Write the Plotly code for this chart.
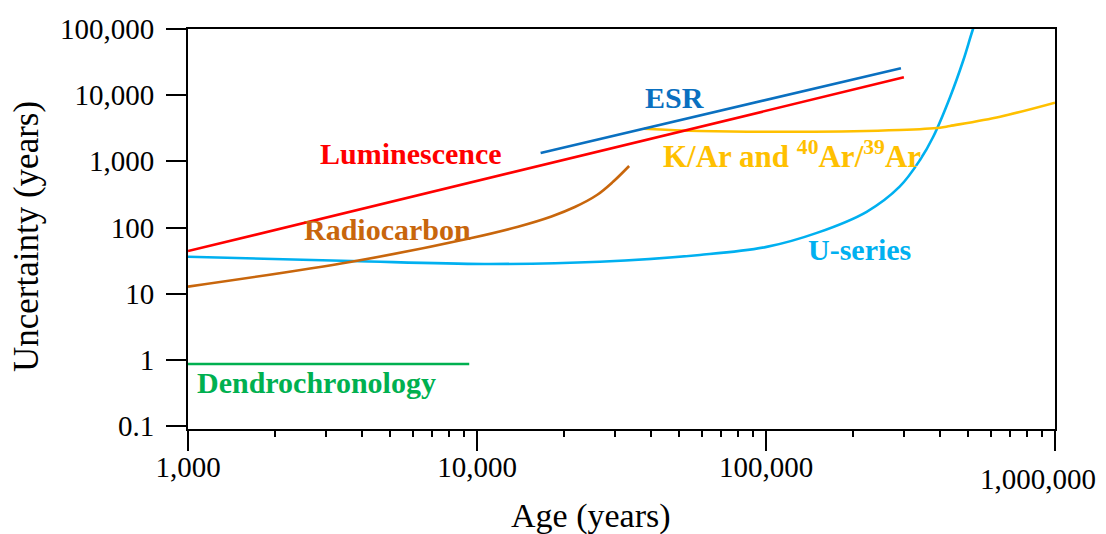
import plotly.graph_objects as go

# ---- data ----
dendro_x = [1000, 9400]
dendro_y = [0.865, 0.865]

lum_x = [1000, 300000]
lum_y = [44, 18600]

esr_x = [16600, 293000]
esr_y = [1340, 25500]

radio_x = [1000, 3680, 9570, 13870, 18100, 21800, 26000, 29500, 33600]
radio_y = [12.8, 30.4, 69.5, 103, 147, 204, 310, 487, 851]

useries_x = [1000, 3680, 10600, 26600, 59000, 100500, 150000, 223000, 290000,
             341000, 379000, 434000, 482000, 519000, 560000]
useries_y = [36.2, 31.2, 28.1, 30.4, 38.5, 51, 83, 173, 414,
             1047, 2355, 9480, 34000, 96600, 250000]

kar_x = [37800, 59000, 131000, 290000, 400000, 433000, 646000, 1000000]
kar_y = [3110, 2880, 2800, 2980, 3220, 3420, 4730, 7700]

x_tickvals = [1000, 10000, 100000, 1000000]
x_ticktext = ["1,000", "10,000", "100,000", ""]
x_last_label = "1,000,000"
x_minorvals = [m * 10 ** k for k in (3, 4, 5) for m in range(2, 10)]
y_tickvals = [0.1, 1, 10, 100, 1000, 10000, 100000]
y_ticktext = ["0.1", "1", "10", "100", "1,000", "10,000", "100,000"]

SERIF = "Liberation Serif"
RED = "#FF0000"
ESR_C = "#0A70C0"
GOLD = "#FFC000"
BROWN = "#C8660C"
LBLUE = "#00B0F0"
GREEN = "#00B050"

fig = go.Figure()

def add_line(x, y, color, smooth=False):
    fig.add_trace(go.Scatter(
        x=x, y=y, mode="lines",
        line=dict(color=color, width=2.6, shape="spline" if smooth else "linear",
                  smoothing=1.0),
        hoverinfo="skip", showlegend=False))

add_line(dendro_x, dendro_y, GREEN)
add_line(useries_x, useries_y, LBLUE, smooth=True)
add_line(radio_x, radio_y, BROWN, smooth=True)
add_line(kar_x, kar_y, GOLD, smooth=True)
add_line(lum_x, lum_y, RED)
add_line(esr_x, esr_y, ESR_C)

# series labels: (text, log10 x, log10 y, color, size)
labels = [
    ("ESR", 4.685, 3.972, ESR_C, 30),
    ("Luminescence", 3.773, 3.126, RED, 30),
    ("Radiocarbon", 3.691, 1.977, BROWN, 30),
    ("K/Ar and <sup>40</sup>Ar/<sup>39</sup>Ar", 5.091, 3.111, GOLD, 31),
    ("U-series", 5.322, 1.675, LBLUE, 30),
    ("Dendrochronology", 3.444, -0.335, GREEN, 30),
]
for text, lx, ly, col, sz in labels:
    fig.add_annotation(x=lx, y=ly, xref="x", yref="y", text="<b>%s</b>" % text,
                       showarrow=False, xanchor="center", yanchor="middle",
                       font=dict(family=SERIF, size=sz, color=col))

# last x tick label, shifted left/down as in the original
fig.add_annotation(x=6, y=(429 - 479) / 400, xref="x", yref="paper", text=x_last_label,
                   showarrow=False, xanchor="center", yanchor="middle", xshift=-17,
                   font=dict(family=SERIF, size=29, color="black"))

# axis titles
fig.add_annotation(x=(591 - 188) / 867, y=(429 - 516) / 400, xref="paper", yref="paper",
                   text="Age (years)", showarrow=False, xanchor="center", yanchor="middle",
                   font=dict(family=SERIF, size=34, color="black"))
fig.add_annotation(x=(26 - 188) / 867, y=(429 - 237) / 400, xref="paper", yref="paper",
                   text="Uncertainty (years)", showarrow=False, textangle=-90,
                   xanchor="center", yanchor="middle",
                   font=dict(family=SERIF, size=35, color="black"))

fig.update_xaxes(
    type="log", range=[3, 6], tickmode="array", tickvals=x_tickvals, ticktext=x_ticktext,
    ticks="outside", ticklen=20, tickwidth=2, tickcolor="black",
    minor=dict(tickmode="array", tickvals=x_minorvals, ticks="outside", ticklen=6,
               tickwidth=1.5, tickcolor="black", showgrid=False),
    showline=True, linecolor="black", linewidth=2, mirror=True, automargin=False,
    showgrid=False, zeroline=False, ticklabelstandoff=-9,
    tickfont=dict(family=SERIF, size=29, color="black"),
)
fig.update_yaxes(
    type="log", range=[-1.045, 5], tickmode="array", tickvals=y_tickvals, ticktext=y_ticktext,
    ticks="outside", ticklen=20, tickwidth=2, tickcolor="black",
    showline=True, linecolor="black", linewidth=2, mirror=True, automargin=False,
    showgrid=False, zeroline=False, ticklabelstandoff=6, ticklabeloverflow="allow",
    tickfont=dict(family=SERIF, size=29, color="black"),
)
fig.update_layout(
    width=1106, height=534,
    margin=dict(l=188, r=51, t=29, b=105, autoexpand=False),
    plot_bgcolor="white", paper_bgcolor="white",
    showlegend=False,
)
fig.write_html("out.html", config={"displayModeBar": False},
               post_script="document.body.style.margin='0';document.body.style.overflow='hidden';")
